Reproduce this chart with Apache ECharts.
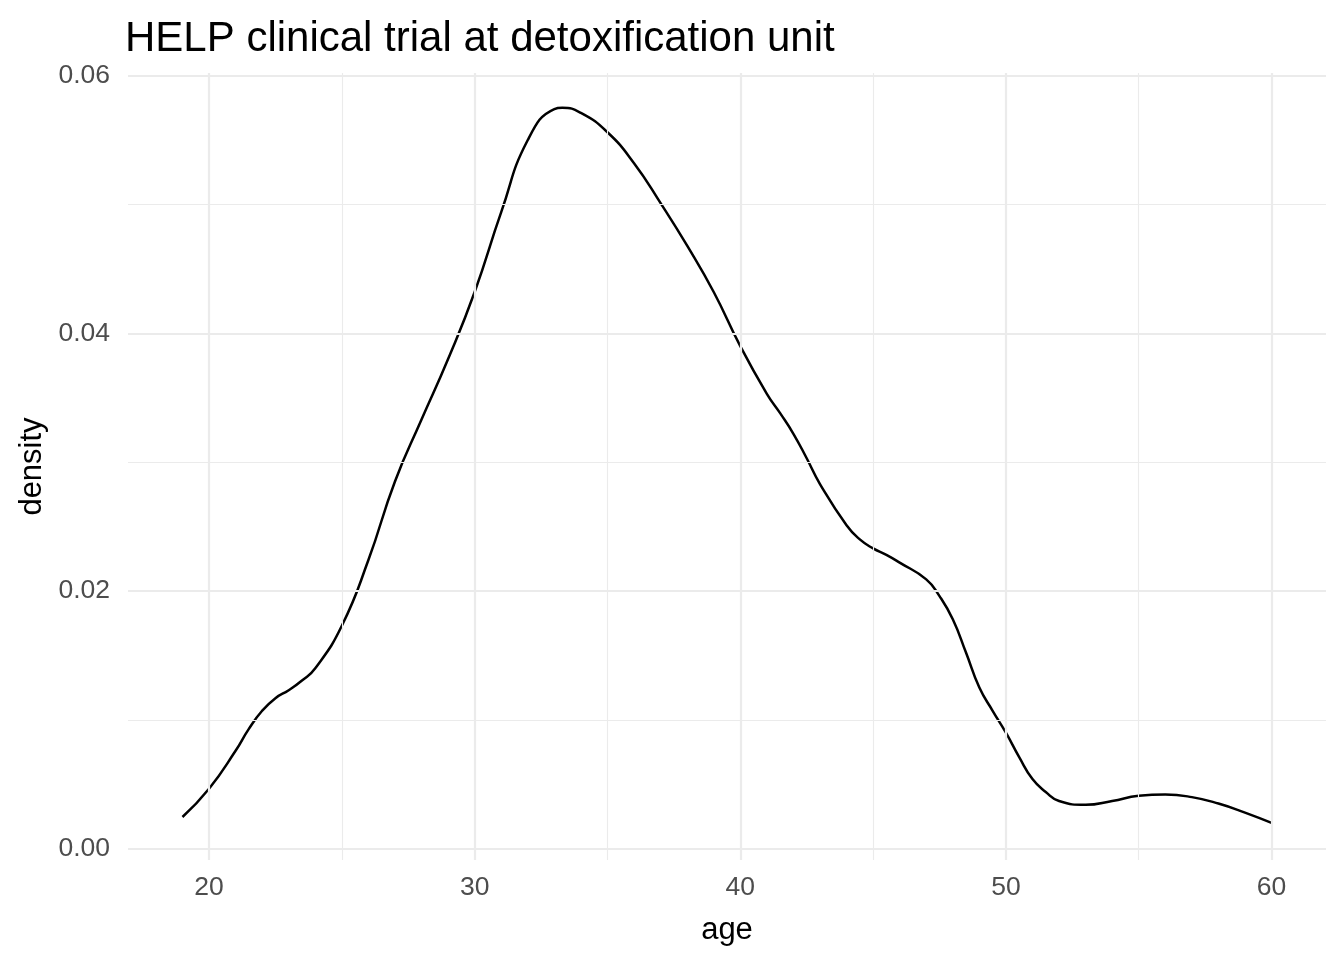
<!DOCTYPE html>
<html>
<head>
<meta charset="utf-8">
<script src="https://cdn.jsdelivr.net/npm/echarts@6/dist/echarts.min.js"></script>
<style>
html,body{margin:0;padding:0;background:#fff;}
#chart{width:1344px;height:960px;}
</style>
</head>
<body>
<div id="chart"></div>
<script>
// age values (x) and kernel density estimates (y)
const ages = [19, 20, 21, 21.5, 22, 22.5, 23, 23.5, 24, 25, 26, 27, 28, 29, 30, 31, 32, 33, 33.3, 34, 35, 36, 37,
  38, 39, 40, 41, 41.5, 42, 42.5, 43, 44, 44.5, 45, 45.5, 46, 47, 47.5, 48, 48.5, 49, 49.5, 50, 50.5,
  51, 51.5, 52, 53, 54, 55, 56, 57, 58, 59, 60];
const density = [0.00246, 0.00465, 0.0076, 0.0093, 0.0107, 0.01168, 0.0123, 0.01305, 0.0140, 0.0173, 0.0224,
  0.0285, 0.0333, 0.0380, 0.0432, 0.0494, 0.0550, 0.0574, 0.0575, 0.0571, 0.0556, 0.0532, 0.0501,
  0.0468, 0.0432, 0.0390, 0.0353, 0.0338, 0.0322, 0.0303, 0.0283, 0.0251, 0.0240, 0.0233, 0.0228,
  0.0222, 0.0209, 0.0196, 0.0178, 0.0152, 0.0125, 0.0107, 0.0090, 0.0071, 0.0054, 0.0044, 0.0037,
  0.0034, 0.0037, 0.0041, 0.0042, 0.0040, 0.0035, 0.0028, 0.0020];
const xMajor = [20, 30, 40, 50, 60];
const xMinor = [25, 35, 45, 55];
const yMajor = [0, 0.02, 0.04, 0.06];
const yMinor = [0.01, 0.03, 0.05];
const titleText = 'HELP clinical trial at detoxification unit';
const xTitle = 'age';
const yTitle = 'density';

const FONT = '"Liberation Sans", Arial, Helvetica, sans-serif';
const GRID_COL = '#EBEBEB';

const seriesData = ages.map((a, i) => [a, density[i]]);

const gridLines = [];
xMinor.forEach(v => gridLines.push({xAxis: v, lineStyle: {width: 1.1, color: GRID_COL, type: 'solid'}}));
yMinor.forEach(v => gridLines.push({yAxis: v, lineStyle: {width: 1.1, color: GRID_COL, type: 'solid'}}));
xMajor.forEach(v => gridLines.push({xAxis: v, lineStyle: {width: 2.2, color: GRID_COL, type: 'solid'}}));
yMajor.forEach(v => gridLines.push({yAxis: v, lineStyle: {width: 2.2, color: GRID_COL, type: 'solid'}}));

const chart = echarts.init(document.getElementById('chart'), null, {renderer: 'canvas'});
chart.setOption({
  animation: false,
  backgroundColor: '#ffffff',
  title: {
    text: titleText,
    left: 125,
    top: 18,
    padding: 0,
    textStyle: {fontFamily: FONT, fontSize: 42, fontWeight: 'normal', color: '#000000'}
  },
  grid: {left: 128, right: 18, top: 73, bottom: 100, containLabel: false},
  xAxis: {
    type: 'value',
    min: 16.95,
    max: 62.05,
    name: xTitle,
    nameLocation: 'middle',
    nameGap: 55,
    nameTextStyle: {fontFamily: FONT, fontSize: 31, color: '#000000'},
    axisLine: {show: false},
    axisTick: {show: false},
    splitLine: {show: false},
    axisLabel: {
      customValues: xMajor,
      fontFamily: FONT, fontSize: 26.5, color: '#4D4D4D', margin: 14,
      formatter: v => String(v)
    }
  },
  yAxis: {
    type: 'value',
    min: -0.00088,
    max: 0.0602,
    name: yTitle,
    nameLocation: 'middle',
    nameGap: 80,
    nameRotate: 90,
    nameTextStyle: {fontFamily: FONT, fontSize: 31, color: '#000000'},
    axisLine: {show: false},
    axisTick: {show: false},
    splitLine: {show: false},
    axisLabel: {
      customValues: yMajor,
      fontFamily: FONT, fontSize: 26.5, color: '#4D4D4D', margin: 18,
      formatter: v => v.toFixed(2)
    }
  },
  series: [
    {
      name: 'grid',
      type: 'line',
      data: [],
      z: 1,
      silent: true,
      markLine: {
        silent: true,
        symbol: ['none', 'none'],
        label: {show: false},
        emphasis: {disabled: true},
        animation: false,
        data: gridLines
      }
    },
    {
      name: 'density',
      type: 'line',
      data: seriesData,
      z: 3,
      smooth: 0.5,
      showSymbol: false,
      symbol: 'none',
      lineStyle: {color: '#000000', width: 2.5}
    }
  ]
});
</script>
</body>
</html>
